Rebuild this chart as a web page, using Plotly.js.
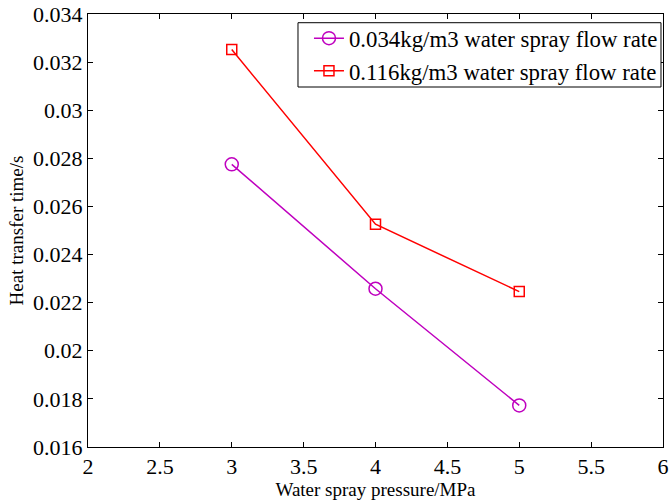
<!DOCTYPE html>
<html>
<head>
<meta charset="utf-8">
<script src="https://cdn.plot.ly/plotly-3.0.1.min.js"></script>
<style>body{margin:0;padding:0;background:#fff;}#chart{width:670px;height:500px;}</style>
</head>
<body>
<div id="chart"></div>
<script>
var pressure = [3, 4, 5];
var timeLow = [0.02775, 0.02258, 0.01773];
var timeHigh = [0.03252, 0.02526, 0.02246];
var nameLow = "0.034kg/m3 water spray flow rate";
var nameHigh = "0.116kg/m3 water spray flow rate";
var xTicks = [2, 2.5, 3, 3.5, 4, 4.5, 5, 5.5, 6];
var xTickText = ["2", "2.5", "3", "3.5", "4", "4.5", "5", "5.5", "6"];
var yTicks = [0.016, 0.018, 0.02, 0.022, 0.024, 0.026, 0.028, 0.03, 0.032, 0.034];
var yTickText = ["0.016", "0.018", "0.02", "0.022", "0.024", "0.026", "0.028", "0.03", "0.032", "0.034"];

var serif = "Liberation Serif, Times New Roman, serif";
var traces = [
  {x: pressure, y: timeLow, name: nameLow, type: "scatter", mode: "lines+markers",
   line: {color: "#BF00BF", width: 1.5},
   marker: {symbol: "circle-open", size: 13, color: "#BF00BF", line: {width: 1.5, color: "#BF00BF"}}},
  {x: pressure, y: timeHigh, name: nameHigh, type: "scatter", mode: "lines+markers",
   line: {color: "#FF0000", width: 1.5},
   marker: {symbol: "square-open", size: 10, color: "#FF0000", line: {width: 1.5, color: "#FF0000"}}}
];
var layout = {
  width: 670, height: 500,
  margin: {l: 88, r: 7, t: 14, b: 53},
  paper_bgcolor: "#fff", plot_bgcolor: "#fff",
  font: {family: serif, color: "#000", size: 22},
  showlegend: true,
  legend: {x: 0.3843, y: 0.9935, xanchor: "left", yanchor: "top",
           borderwidth: 0, bgcolor: "rgba(0,0,0,0)",
           font: {family: serif, size: 22.8}, tracegroupgap: 0},
  shapes: [{type: "rect", xref: "paper", yref: "paper", x0: 0.3652, x1: 0.9965, y0: 0.8314, y1: 0.9799,
            line: {color: "#000", width: 1}, fillcolor: "#fff", layer: "above"}],
  xaxis: {range: [2, 6], tickvals: xTicks, ticktext: xTickText,
          ticks: "inside", ticklen: 5, tickcolor: "#000", mirror: "ticks",
          showline: true, linecolor: "#000", linewidth: 1, showgrid: false, zeroline: false,
          tickfont: {family: serif, size: 22},
          title: {text: "Water spray pressure/MPa", font: {family: serif, size: 19}, standoff: 5}},
  yaxis: {range: [0.016, 0.034], tickvals: yTicks, ticktext: yTickText,
          ticks: "inside", ticklen: 5, tickcolor: "#000", mirror: "ticks",
          showline: true, linecolor: "#000", linewidth: 1, showgrid: false, zeroline: false,
          tickfont: {family: serif, size: 22},
          title: {text: "Heat transfer time/s", font: {family: serif, size: 19}, standoff: 4}}
};
Plotly.newPlot("chart", traces, layout, {displayModeBar: false, staticPlot: true});
</script>
</body>
</html>
